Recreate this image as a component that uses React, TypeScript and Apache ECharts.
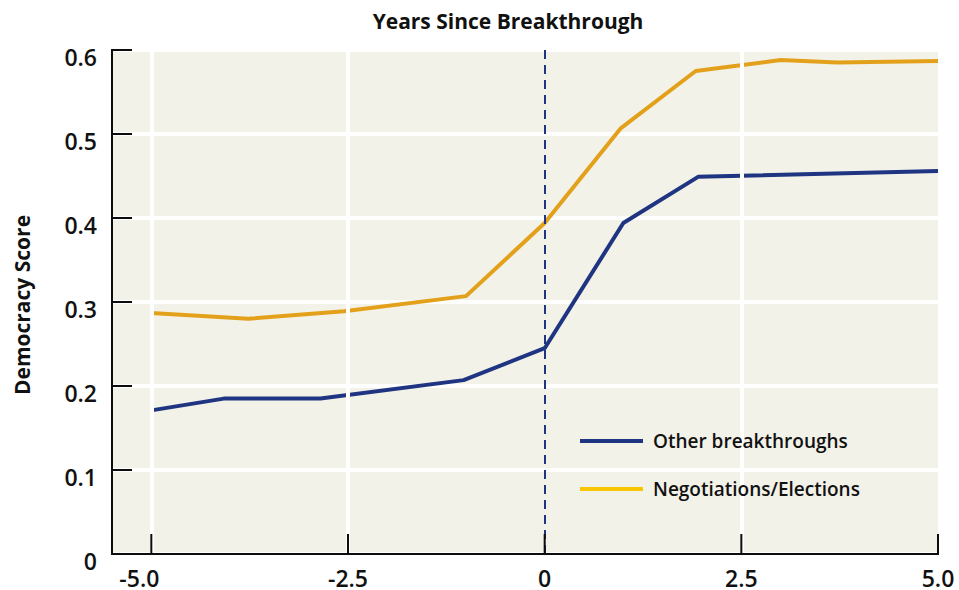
import React, { useEffect, useRef } from "react";
import * as echarts from "echarts";

const blueX = [-5, -4.08, -2.85, -1.03, 0, 1.0, 1.95, 5];
const blueY = [0.171, 0.185, 0.185, 0.207, 0.245, 0.394, 0.449, 0.456];
const orangeX = [-5, -3.77, -2.55, -1.0, 0, 0.97, 1.92, 3.0, 3.72, 5];
const orangeY = [0.287, 0.28, 0.289, 0.307, 0.394, 0.507, 0.575, 0.588, 0.585, 0.587];
const xTicks = [-5, -2.5, 0, 2.5, 5];
const yTicks = [0, 0.1, 0.2, 0.3, 0.4, 0.5, 0.6];
const xGridLines = [-5, -2.5, 2.5];
const xMin = -5.5;
const xMax = 5;
const seriesNames = ["Other breakthroughs", "Negotiations/Elections"];

const FONT = "'Open Sans', sans-serif";
const BG = "#f3f2e9";
const INK = "#111111";
const BLUE = "#1f3582";

export default function App() {
  const ref = useRef<HTMLDivElement>(null);
  useEffect(() => {
    document.body.style.margin = "0";
    const chart = echarts.init(ref.current!, null, { renderer: "svg" });
    const zip = (xs: number[], ys: number[]) => xs.map((x, i) => [x, ys[i]]);
    const fmt = (v: number) => (v === 0 ? "0" : v.toFixed(1));
    const labelFont = { fontFamily: FONT, fontSize: 23, fontWeight: 600, color: INK };
    chart.setOption({
      animation: false,
      grid: {
        left: 112,
        right: 21,
        top: 50,
        bottom: 36,
        show: true,
        borderWidth: 0,
        backgroundColor: BG,
      },
      xAxis: {
        type: "value",
        min: xMin,
        max: xMax,
        axisLine: { show: false },
        axisTick: { show: false, customValues: xTicks },
        axisLabel: {
          customValues: xTicks,
          formatter: (v: number) => (v === xTicks[0] ? "{l|" + fmt(v) + "}" : fmt(v)),
          rich: { l: { ...labelFont, padding: [0, 24, 0, 0] } },
          ...labelFont,
          lineHeight: 22,
          margin: 13,
        },
        splitLine: { show: false },
      },
      yAxis: {
        type: "value",
        min: 0,
        max: 0.6,
        interval: 0.1,
        axisLine: { show: false },
        axisTick: { show: false },
        axisLabel: {
          formatter: (v: number) => "{a|" + fmt(v) + "}",
          rich: { a: { ...labelFont, padding: [13, 0, 0, 0] } },
          ...labelFont,
          margin: 15,
        },
        splitLine: { show: true, lineStyle: { color: "#ffffff", width: 4 } },
      },
      series: [
        {
          name: "grid",
          type: "line",
          data: [],
          z: 1,
          silent: true,
          markLine: {
            silent: true,
            symbol: "none",
            label: { show: false },
            data: [
              ...xGridLines.map((v) => ({
                xAxis: v,
                lineStyle: { color: "#ffffff", width: 4, type: "solid" },
              })),
              { xAxis: 0, lineStyle: { color: BLUE, width: 2, type: [9, 6] } },
            ],
          },
        },
        {
          name: seriesNames[0],
          type: "line",
          data: zip(blueX, blueY),
          showSymbol: false,
          lineStyle: { color: BLUE, width: 4 },
          z: 3,
        },
        {
          name: seriesNames[1],
          type: "line",
          data: zip(orangeX, orangeY),
          showSymbol: false,
          lineStyle: { color: "#e3a11b", width: 4 },
          z: 4,
        },
      ],
    });

    const p = (x: number, y: number) => chart.convertToPixel({ gridIndex: 0 }, [x, y]) as number[];
    const origin = p(xMin, 0);
    const top = p(xMin, 0.6);
    const right = p(xMax, 0);
    const mkLine = (x1: number, y1: number, x2: number, y2: number) => ({
      type: "line",
      shape: { x1, y1, x2, y2 },
      style: { stroke: "#0d0d0d", lineWidth: 2 },
      z: 100,
    });
    const axisEls: any[] = [
      mkLine(origin[0], top[1] - 1, origin[0], origin[1] + 1),
      mkLine(origin[0] - 1, origin[1], right[0] + 1, origin[1]),
      ...yTicks.map((v) => {
        const q = p(xMin, v);
        return mkLine(q[0], q[1], q[0] + 20, q[1]);
      }),
      ...xTicks.map((v) => {
        const q = p(v, 0);
        return mkLine(q[0], q[1], q[0], q[1] - 20);
      }),
    ];

    chart.setOption({
      graphic: [
        ...axisEls,
        {
          type: "text",
          x: 508,
          y: 21,
          style: {
            text: "Years Since Breakthrough",
            fontFamily: FONT,
            fontSize: 21,
            fontWeight: 700,
            fill: INK,
            align: "center",
            verticalAlign: "middle",
          },
        },
        {
          type: "text",
          x: 22,
          y: 305,
          rotation: Math.PI / 2,
          style: {
            text: "Democracy Score",
            fontFamily: FONT,
            fontSize: 21,
            fontWeight: 700,
            fill: INK,
            align: "center",
            verticalAlign: "middle",
          },
        },
        {
          type: "line",
          shape: { x1: 580, y1: 441, x2: 643, y2: 441 },
          style: { stroke: BLUE, lineWidth: 4 },
          z: 100,
        },
        {
          type: "line",
          shape: { x1: 580, y1: 489, x2: 643, y2: 489 },
          style: { stroke: "#f7c600", lineWidth: 4 },
          z: 100,
        },
        {
          type: "text",
          x: 653,
          y: 441,
          style: {
            text: seriesNames[0],
            fontFamily: FONT,
            fontSize: 19,
            fontWeight: 600,
            fill: INK,
            verticalAlign: "middle",
          },
          z: 100,
        },
        {
          type: "text",
          x: 653,
          y: 489,
          style: {
            text: seriesNames[1],
            fontFamily: FONT,
            fontSize: 19,
            fontWeight: 600,
            fill: INK,
            verticalAlign: "middle",
          },
          z: 100,
        },
      ],
    });
    return () => chart.dispose();
  }, []);
  return <div ref={ref} style={{ width: 959, height: 590 }} />;
}
